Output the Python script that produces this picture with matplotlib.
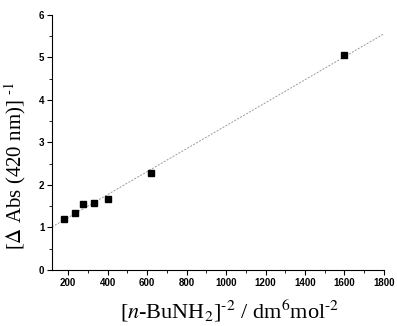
import numpy as np
import matplotlib
matplotlib.use("Agg")
import matplotlib.pyplot as plt
from matplotlib.ticker import MultipleLocator

# data
conc_inv2 = [178, 232, 275, 330, 400, 620, 1600]
inv_dabs = [1.20, 1.33, 1.55, 1.58, 1.68, 2.28, 5.05]
x_ticks = [200, 400, 600, 800, 1000, 1200, 1400, 1600, 1800]
y_ticks = [0, 1, 2, 3, 4, 5, 6]

plt.rcParams['mathtext.fontset'] = 'stix'

fig = plt.figure(figsize=(3.97, 3.26), dpi=100)
ax = fig.add_axes([0.131, 0.172, 0.836, 0.782])

# linear fit
slope, icpt = np.polyfit(conc_inv2, inv_dabs, 1)
xl = np.array([118, 1800])
ax.plot(xl, slope * xl + icpt, color='#999999', lw=0.7, ls=(0, (2, 1.5)))
ax.plot(conc_inv2, inv_dabs, 's', color='black', ms=4)

ax.set_xlim(118, 1800)
ax.set_ylim(0, 6)
ax.set_xticks(x_ticks)
ax.set_yticks(y_ticks)
ax.xaxis.set_minor_locator(MultipleLocator(100))
ax.yaxis.set_minor_locator(MultipleLocator(0.5))
ax.spines['top'].set_visible(False)
ax.spines['right'].set_visible(False)
ax.tick_params(which='major', length=3.5, width=0.8, labelsize=7, pad=2)
ax.tick_params(which='minor', length=2, width=0.6)
for lab in ax.get_xticklabels() + ax.get_yticklabels():
    lab.set_fontweight('bold')
    lab.set_family('Liberation Sans')

ax.set_xlabel(r'[$\it{n}$-BuNH$_2$]$^{\text{-}2}$ / dm$^{6}$mol$^{\text{-}2}$',
              family='Liberation Serif', fontsize=16)
ax.set_ylabel(r'[$\Delta$ Abs (420 nm)] $^{\text{-}1}$',
              family='Liberation Serif', fontsize=15)
ax.xaxis.set_label_coords(0.536, -0.108)
ax.yaxis.set_label_coords(-0.072, 0.408)

fig.savefig('out.png', dpi=100)
